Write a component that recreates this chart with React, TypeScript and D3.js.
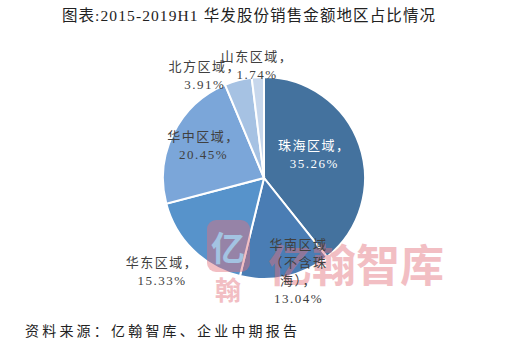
import React from 'react';
import * as d3 from 'd3';

const regions = ['珠海区域', '华南区域（不含珠海）', '华东区域', '华中区域', '北方区域', '山东区域'];
const shares = [35.26, 13.04, 15.33, 20.45, 3.91, 1.74];
const colors = ['#44729e', '#4a7db4', '#5793cb', '#7ba6d9', '#a6c2e3', '#c7d7ec'];

// label lines as Excel wrapped them
const labelLines = [
  ['珠海区域，', '35.26%'],
  ['华南区域', '（不含珠', '海），', '13.04%'],
  ['华东区域，', '15.33%'],
  ['华中区域，', '20.45%'],
  ['北方区域，', '3.91%'],
  ['山东区域，', '1.74%'],
];

const W = 519;
const H = 351;
const cx = 264;
const cy = 178;
const R = 101;

// label placement: [radius factor, angle shift in degrees]
const labelPos = [
  [0.55, -6],
  [0.98, -8],
  [1.37, 3],
  [0.68, 2],
  [1.18, -15],
  [1.12, 0],
];

const serif = '"Liberation Serif", "Noto Sans CJK SC", serif';

const App = () => {
  const pie = d3.pie<number>().sort(null).value(d => d);
  const arcs = pie(shares);
  const arc = d3.arc<d3.PieArcDatum<number>>().innerRadius(0).outerRadius(R);

  return (
    <svg width={W} height={H} style={{ position: 'absolute', left: 0, top: 0, background: '#fff' }}>
      <text x={249} y={21} textAnchor="middle" fontFamily={serif} fontSize={15.5} fill="#222" letterSpacing={1.1}>
        图表:2015-2019H1 华发股份销售金额地区占比情况
      </text>

      <g transform={`translate(${cx},${cy})`}>
        {arcs.map((a, i) => (
          <path key={regions[i]} d={arc(a) || ''} fill={colors[i]} stroke="#fff" strokeWidth={2} />
        ))}
      </g>

      {/* watermark */}
      <g opacity={0.45}>
        <rect x={207} y={220} width={43} height={52} rx={9} fill="#e3707c" />
        <text x={228} y={261} textAnchor="middle" fontFamily='"Noto Sans CJK SC"' fontSize={34} fontWeight={700} fill="#fff">亿</text>
        <text x={228} y={300} textAnchor="middle" fontFamily='"Noto Sans CJK SC"' fontSize={26} fontWeight={700} fill="#e3707c">翰</text>
        <text x={268} y={282} fontFamily='"Noto Sans CJK SC"' fontSize={44} fontWeight={700} fill="#e3707c">亿翰智库</text>
      </g>

      <g transform={`translate(${cx},${cy})`}>
        {arcs.map((a, i) => {
          const [rf, shift] = labelPos[i];
          const mid = (a.startAngle + a.endAngle) / 2 + (shift * Math.PI) / 180;
          const lx = Math.sin(mid) * R * rf;
          const ly = -Math.cos(mid) * R * rf;
          const lines = labelLines[i];
          const lh = 18;
          const y0 = ly - ((lines.length - 1) * lh) / 2;
          return (
            <text key={'l' + i} textAnchor="middle" fontFamily={serif} fontSize={13}
              fill={i === 0 ? '#fff' : '#404040'} letterSpacing={1.5}>
              {lines.map((t, j) => (
                <tspan key={j} x={lx} y={y0 + j * lh + 5}>{t}</tspan>
              ))}
            </text>
          );
        })}
      </g>

      <text x={25} y={336} fontFamily={serif} fontSize={14} fill="#222" letterSpacing={3.2}>
        资料来源：亿翰智库、企业中期报告
      </text>
    </svg>
  );
};

export default App;
